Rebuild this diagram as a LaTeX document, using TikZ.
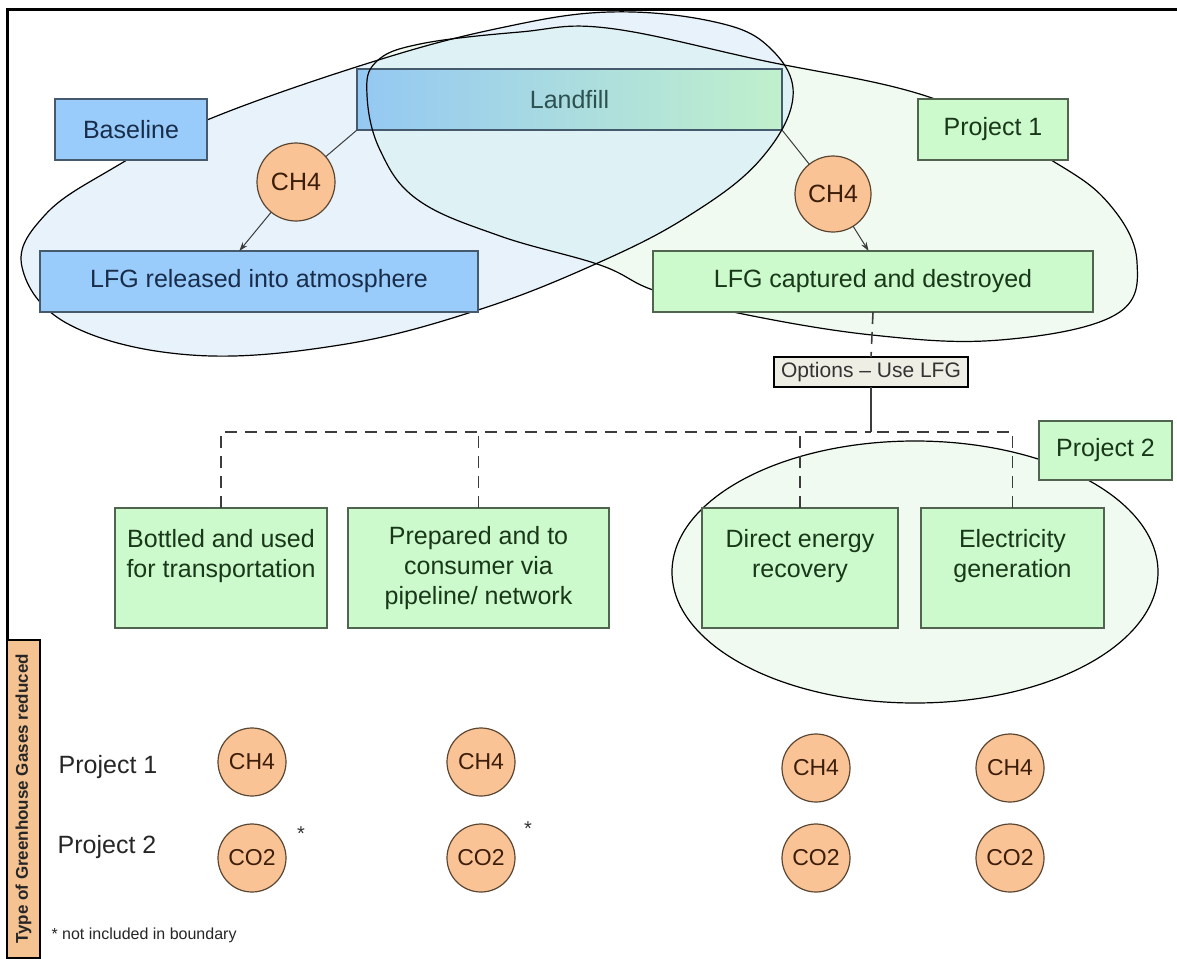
\documentclass[tikz,border=0pt]{standalone}
\usepackage{fontspec}
\setmainfont{Liberation Sans}
\usetikzlibrary{calc,arrows.meta}
\definecolor{bluefill}{RGB}{153,204,250}
\definecolor{bborder}{RGB}{70,90,110}
\definecolor{btext}{RGB}{25,45,75}
\definecolor{greenfill}{RGB}{204,250,204}
\definecolor{gborder}{RGB}{80,100,80}
\definecolor{gtext}{RGB}{25,55,25}
\definecolor{gasfill}{RGB}{250,195,150}
\definecolor{gasborder}{RGB}{90,70,50}
\definecolor{gastext}{RGB}{60,30,10}
\definecolor{lfleft}{RGB}{148,200,243}
\definecolor{lfright}{RGB}{192,240,204}
\definecolor{lftext}{RGB}{45,80,80}
\definecolor{bfill}{RGB}{232,242,251}
\definecolor{pfill}{RGB}{240,250,241}
\definecolor{bothfill}{RGB}{222,242,245}
\definecolor{optfill}{RGB}{238,238,228}
\definecolor{barfill}{RGB}{245,195,145}
\definecolor{ptwofill}{RGB}{240,250,240}
\definecolor{connc}{RGB}{60,60,60}
\begin{document}
\begin{tikzpicture}[x=1pt,y=-1pt,
  bigfont/.style={font=\fontsize{25}{30}\selectfont},
  bbox/.style={draw=bborder, fill=bluefill, line width=1.6pt, text=btext, bigfont, inner sep=0pt, outer sep=0pt, anchor=north west},
  gbox/.style={draw=gborder, fill=greenfill, line width=1.6pt, text=gtext, bigfont, inner sep=0pt, outer sep=0pt, anchor=north west, align=center},
  gas/.style={circle, draw=gasborder, fill=gasfill, line width=1.2pt, text=gastext, bigfont, inner sep=0pt, outer sep=0pt},
  smallgas/.style={gas, minimum size=68pt, font=\fontsize{23}{26}\selectfont},
  conn/.style={draw=connc, line width=1pt},
  arr/.style={conn, -{Stealth[length=9pt,width=6pt]}},
  dashconn/.style={draw=connc, line width=1.6pt, dash pattern=on 12pt off 8pt},
  blob/.style={draw=black, line width=1.2pt},
  plain/.style={bigfont, text=black!85}
]
\useasboundingbox (0,0) rectangle (1177,958);
\fill[white] (0,0) rectangle (1177,958);

% Project 2 boundary
\draw[blob, fill=ptwofill] (915,572) ellipse [x radius=243pt, y radius=131pt];

% Baseline and Project 1 boundaries (fills)
\def\bpath{plot[smooth cycle, tension=0.65] coordinates {
 (22,267) (45,215) (110,170) (207,120) (372,62) (500,28) (610,12) (715,22) (770,48)
 (793,97) (760,160) (690,215) (600,262) (478,310) (340,345) (191,355) (70,325)}}
\def\ppath{plot[smooth cycle, tension=0.65] coordinates {
 (367,95) (376,62) (420,44) (520,32) (607,28) (760,60) (932,98) (1051,160) (1110,205)
 (1137,262) (1115,315) (1000,340) (872,335) (733,312) (653,290) (600,265) (500,236)
 (418,200) (380,150)}}
\path[fill=bfill] \bpath;
\path[fill=pfill] \ppath;
\begin{scope}
  \clip \bpath;
  \path[fill=bothfill] \ppath;
\end{scope}

% Landfill box
\node[draw=bborder, line width=1.6pt, left color=lfleft, right color=lfright, text=lftext, bigfont,
      inner sep=0pt, outer sep=0pt, anchor=north west, minimum width=425pt, minimum height=61pt]
      (landfill) at (357,69) {Landfill};

% boundary outlines
\draw[blob] \bpath;
\draw[blob] \ppath;

% top boxes
\node[bbox, minimum width=152pt, minimum height=61pt] (baseline) at (55,99) {Baseline};
\node[gbox, minimum width=150pt, minimum height=61pt] (proj1) at (918,99) {Project 1};
\node[bbox, minimum width=438pt, minimum height=61pt] (released) at (40,251) {LFG released into atmosphere};
\node[gbox, minimum width=440pt, minimum height=61pt] (captured) at (653,251) {LFG captured and destroyed};

% gases on the top
\node[gas, minimum size=78pt] (ch4a) at (296,182) {CH4};
\node[gas, minimum size=76pt] (ch4b) at (833,194) {CH4};

\draw[conn] (landfill.south west) -- (ch4a);
\draw[arr] (ch4a) -- ($(released.north west)!0.455!(released.north east)$);
\draw[conn] (landfill.south east) -- (ch4b);
\draw[arr] (ch4b) -- ($(captured.north west)!0.49!(captured.north east)$);

% options
\node[draw=black, line width=1.5pt, fill=optfill, text=black!80, font=\fontsize{21}{24}\selectfont,
      inner sep=0pt, outer sep=0pt, anchor=north west, minimum width=194pt, minimum height=30pt]
      (options) at (774,357) {Options -- Use LFG};
\draw[dashconn] (captured.south) -- (options.north);
\coordinate (j) at ($(options.south)+(0,45)$);
\draw[conn, line width=1.6pt] (options.south) -- (j);

% use options
\node[gbox, minimum width=212pt, minimum height=120pt] (bottled) at (115,508) {Bottled and used\\for transportation\\\mbox{}};
\node[gbox, minimum width=261pt, minimum height=120pt] (prepared) at (348,508) {Prepared and to\\consumer via\\pipeline/ network};
\node[gbox, minimum width=196pt, minimum height=120pt] (direct) at (702,508) {Direct energy\\recovery\\\mbox{}};
\node[gbox, minimum width=183pt, minimum height=120pt] (electric) at (921,508) {Electricity\\generation\\\mbox{}};
\node[gbox, minimum width=133pt, minimum height=59pt] (proj2) at (1039,421) {Project 2};

\draw[dashconn] (bottled.north) |- (j);
\draw[dashconn] (electric.north) |- (j);
\draw[dashconn] (prepared.north) -- (prepared.north |- j);
\draw[dashconn] (direct.north) -- (direct.north |- j);

% frame
\draw[line width=3pt, black] (7,958) -- (7,10) -- (1177,10);

% side bar
\node[draw=black, line width=1.2pt, fill=barfill, rotate=90, minimum width=318pt, minimum height=33pt,
      inner sep=0pt, font=\bfseries\fontsize{17}{20}\selectfont, text=black!85] (bar) at (23.5,799)
      {Type of Greenhouse Gases reduced};

% gases reduced
\node[plain] (p1lab) at (108,767) {Project 1};
\node[plain] (p2lab) at (107,847) {Project 2};
\node[smallgas] (g1a) at (252,762) {CH4};
\node[smallgas] (g2a) at (481,762) {CH4};
\node[smallgas] (g3a) at (816,768) {CH4};
\node[smallgas] (g4a) at (1010,768) {CH4};
\node[smallgas] (g1b) at (252,858) {CO2};
\node[smallgas] (g2b) at (481,858) {CO2};
\node[smallgas] (g3b) at (816,858) {CO2};
\node[smallgas] (g4b) at (1010,858) {CO2};
\node[font=\fontsize{20}{22}\selectfont, text=black!80] (st1) at (301,834) {*};
\node[font=\fontsize{20}{22}\selectfont, text=black!80] (st2) at (528,829) {*};
\node[anchor=west, font=\fontsize{16}{18}\selectfont, text=black!85] (note) at (48,935) {* not included in boundary};
\end{tikzpicture}
\end{document}
